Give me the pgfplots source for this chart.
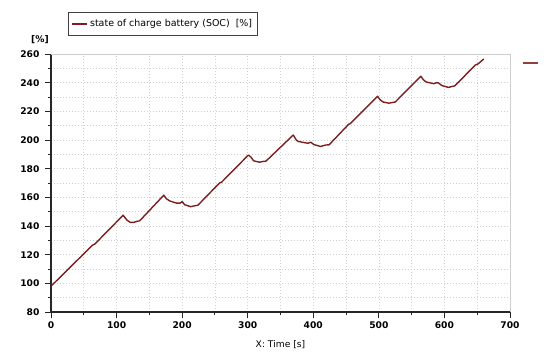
\documentclass[border=0pt]{standalone}
\usepackage{pgfplots}
\pgfplotsset{compat=1.18}
\usepackage{fontspec}
\setmainfont{DejaVu Sans}
\definecolor{socred}{RGB}{125,30,30}
\definecolor{gridgray}{RGB}{208,208,208}
\definecolor{boxgray}{RGB}{205,205,205}
\begin{document}
\begin{tikzpicture}
\path[use as bounding box] (0,0) rectangle (550bp,361bp);
\begin{axis}[
  at={(51bp,49bp)}, anchor=south west,
  scale only axis, width=459bp, height=258bp,
  xmin=0, xmax=700, ymin=80, ymax=260,
  axis lines=left,
  axis line style={-, black!85, line width=1.1bp},
  xtick={0,100,...,700}, minor xtick={50,150,...,650},
  ytick={80,100,...,260}, minor ytick={90,110,...,250},
  tick align=outside,
  major tick length=6bp, minor tick length=3bp,
  tick style={black!85, line width=0.9bp},
  grid=both,
  major grid style={gridgray, dash pattern=on 1bp off 2bp, line width=0.7bp},
  minor grid style={gridgray, dash pattern=on 1bp off 2bp, line width=0.7bp},
  /pgf/number format/assume math mode=true,
  /pgf/number format/1000 sep={},
  tick label style={font=\bfseries\fontsize{9.2}{10}\selectfont},
  yticklabel style={xshift=-2bp},
  xlabel={X: Time [s]},
  xlabel style={font=\fontsize{9.2}{10}\selectfont, at={(axis description cs:0.5,0)}, anchor=north, yshift=-25bp},
  legend style={at={(axis description cs:0.0364,1.164)}, anchor=north west,
    draw=black!75, line width=0.8bp, inner xsep=3bp, inner ysep=5.5bp,
    font=\fontsize{9.5}{11}\selectfont},
  legend cell align=left,
  legend image code/.code={\draw[#1, line width=1.4bp] (0bp,0bp) -- (15.6bp,0bp);},
  clip=false,
]
\addplot[socred, line width=1.4bp, line join=round] coordinates {
(0,98) (63,126.5) (67,127.5) (110,147.5) (116,144) (121,142.5) (126,142.5)
(133,143.5) (135,143.5) (172,161.5) (176,159) (181,157.5) (191,156) (197,156)
(200,157) (204,154.8) (213,153.5) (218,154) (224,154.5) (257,170) (260,170.5)
(301,189.5) (305,188) (309,185.5) (318,184.5) (323,185) (328,185.3)
(369.5,203.5) (374,200) (377,199) (386,198.2) (392,197.7) (396,198.5)
(401,196.8) (411,195.5) (419,196.5) (424,196.6) (454,211) (456,211.3)
(498,230.5) (502,228) (506.5,226.5) (515,225.7) (525,226.5) (564,244.5)
(568,242) (572,240.5) (583.5,239.3) (588,240) (591,239.8) (596,238)
(606,236.7) (616,237.8) (647,252.3) (651,253) (660,256.5)
};
\addlegendentry{state of charge battery (SOC)\ \ [\%]}
\draw[boxgray, line width=0.9bp] (rel axis cs:0,1) -- (rel axis cs:1,1) -- (rel axis cs:1,0);
\node[font=\bfseries\fontsize{9.2}{10}\selectfont] at ([xshift=-11bp,yshift=14.5bp]rel axis cs:0,1) {[\%]};
\end{axis}
\draw[socred!85, line width=1.6bp] (523bp,297.7bp) -- (538bp,297.7bp);
\end{tikzpicture}
\end{document}
